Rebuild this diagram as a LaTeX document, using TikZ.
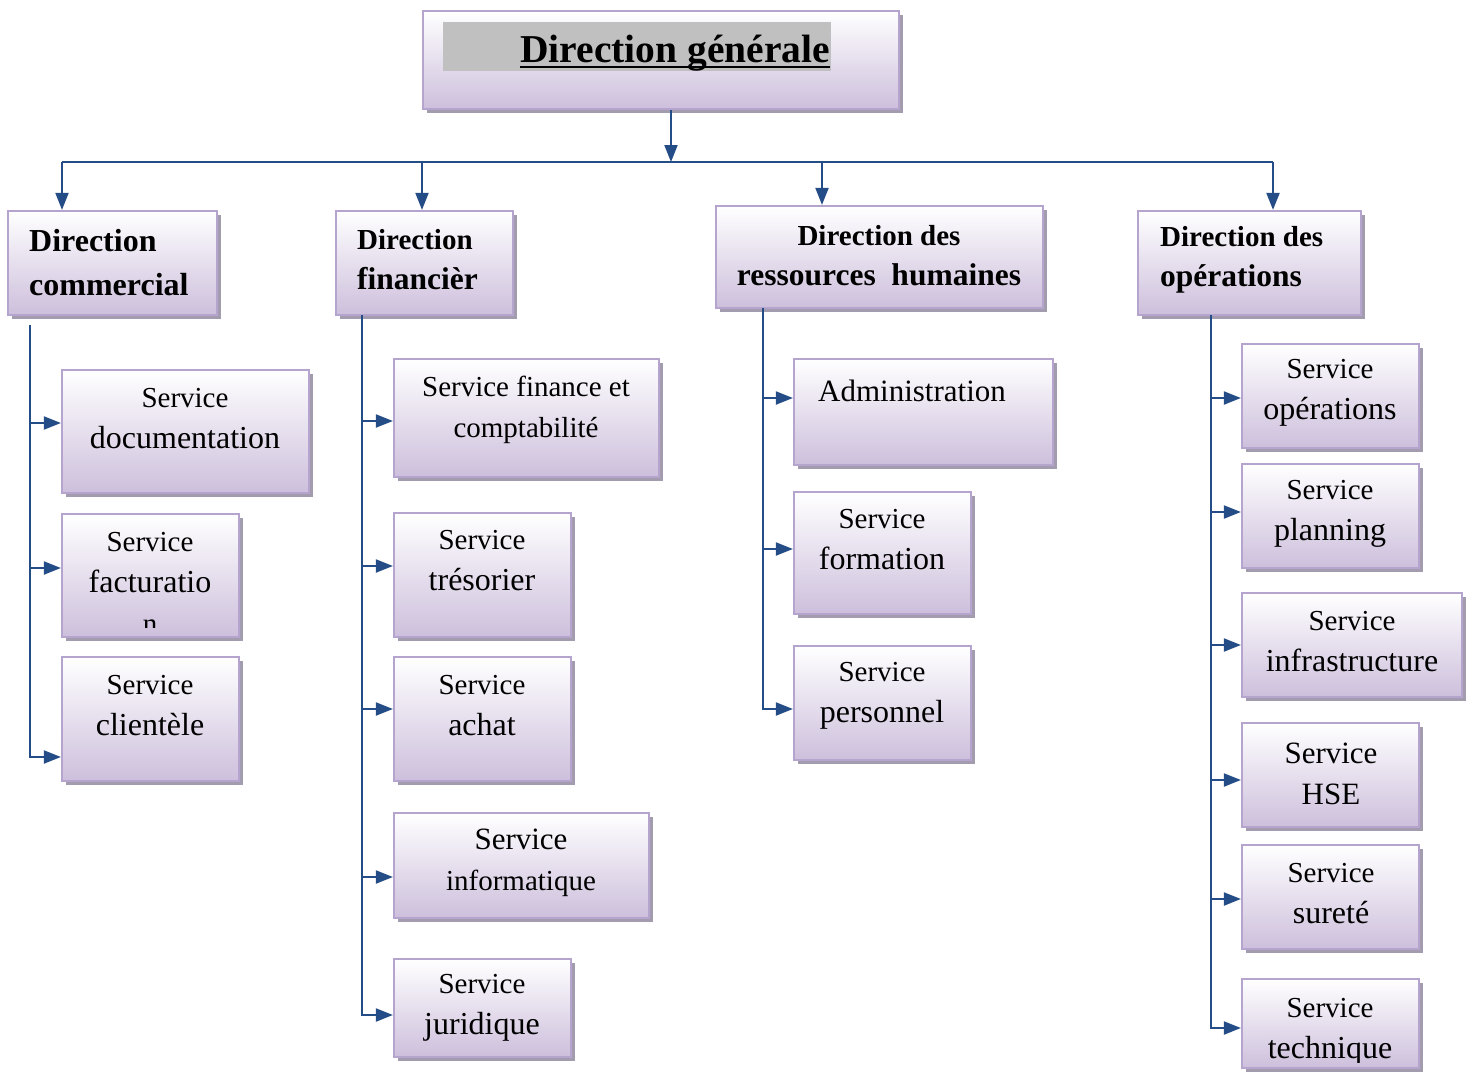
\documentclass[tikz,border=0pt]{standalone}
\usepackage{fontspec}
\setmainfont{Liberation Serif}
\usetikzlibrary{positioning,arrows.meta,shadows}
\definecolor{lavline}{RGB}{181,164,205}
\definecolor{lavfill}{RGB}{205,191,220}
\definecolor{shadowc}{RGB}{163,155,174}
\definecolor{linkblue}{RGB}{36,76,134}
\definecolor{hlgrey}{RGB}{192,192,192}
\newcommand{\secl}{\fontsize{32}{41}\selectfont}
\newcommand{\hsecl}{\fontsize{31.5}{40}\selectfont}

\begin{document}
\begin{tikzpicture}[x=1pt,y=1pt,
  box/.style={draw=lavline,line width=2.2pt,top color=white,bottom color=lavfill,inner sep=0pt,
    drop shadow={shadow xshift=3.5pt,shadow yshift=-3.5pt,fill=shadowc,opacity=1}},
  txt/.style={align=center,inner sep=0pt,font=\fontsize{29}{41}\selectfont},
  head/.style={align=left,inner sep=0pt,font=\bfseries\fontsize{29}{40}\selectfont},
  link/.style={draw=linkblue,line width=2pt},
  arr/.style={link,-{Triangle[length=17pt,width=13pt]}}]
\useasboundingbox (0,0) rectangle (1472,-1071);
% top level
\node[box,minimum width=476,minimum height=98] (dg) at (661,-60) {};
\node[fill=hlgrey,minimum width=388,minimum height=49,inner sep=0pt] (hl) at (637,-46.5) {};
\node[inner sep=0pt,anchor=base,font=\bfseries\fontsize{39.5}{44}\selectfont] (dg-t) at (675,-62) {Direction générale};
\draw[line width=2.6pt] ([yshift=-5]dg-t.base west) -- ([yshift=-5]dg-t.base east);
% directions
\node[box,minimum width=209,minimum height=104] (dc) at (112.5,-263) {};
\node[head,anchor=west,font=\bfseries\fontsize{32}{44}\selectfont] (dc-t) at (29,-263) {Direction\\commercial};
\node[box,minimum width=177,minimum height=104] (df) at (424.5,-263) {};
\node[head,anchor=west] (df-t) at (357,-260) {Direction\\\hsecl financièr};
\node[box,minimum width=327,minimum height=102] (drh) at (879.5,-257) {};
\node[head,align=center] (drh-t) at (879,-256) {Direction des\\\hsecl ressources~~humaines};
\node[box,minimum width=223,minimum height=104] (dop) at (1249.5,-263) {};
\node[head,anchor=west] (dop-t) at (1160,-260) {Direction des\\\hsecl opérations};
% services, commercial
\node[box,minimum width=247,minimum height=123] (doc) at (185.5,-431.5) {};
\node[txt] (doc-t) at (185,-419) {Service\\\secl documentation};
\node[box,minimum width=177,minimum height=123] (fact) at (150.5,-575.5) {};
\begin{scope}
\clip ([yshift=11]fact.south west) rectangle (fact.north east);
\node[txt] (fact-t) at (150,-583) {Service\\\secl facturatio\\n};
\end{scope}
\node[box,minimum width=177,minimum height=124] (cli) at (150.5,-719) {};
\node[txt] (cli-t) at (150,-706) {Service\\\secl clientèle};
% services, financier
\node[box,minimum width=265,minimum height=118] (fin) at (526.5,-418) {};
\node[txt] (fin-t) at (526,-410) {Service finance et\\comptabilité};
\node[box,minimum width=177,minimum height=124] (tres) at (482.5,-575) {};
\node[txt] (tres-t) at (482,-561) {Service\\\secl trésorier};
\node[box,minimum width=177,minimum height=124] (ach) at (482.5,-719) {};
\node[txt] (ach-t) at (482,-706) {Service\\\secl achat};
\node[box,minimum width=255,minimum height=105] (info) at (521.5,-865.5) {};
\node[txt] (info-t) at (521,-863) {{\fontsize{31}{41}\selectfont Service}\\informatique};
\node[box,minimum width=177,minimum height=98] (jur) at (482.5,-1008) {};
\node[txt] (jur-t) at (482,-1008) {Service\\\secl juridique};
% services, ressources humaines
\node[box,minimum width=259,minimum height=106] (adm) at (923.5,-412) {};
\node[txt,font=\fontsize{31}{41}\selectfont] (adm-t) at (912,-391) {Administration};
\node[box,minimum width=177,minimum height=122] (form) at (882.5,-553) {};
\node[txt] (form-t) at (882,-540) {Service\\\secl formation};
\node[box,minimum width=177,minimum height=114] (pers) at (882.5,-703) {};
\node[txt] (pers-t) at (882,-696) {Service\\\secl personnel};
% services, operations
\node[box,minimum width=177,minimum height=104] (sop) at (1330.5,-396) {};
\node[txt] (sop-t) at (1330,-393) {Service\\\secl opérations};
\node[box,minimum width=177,minimum height=104] (plan) at (1330.5,-516) {};
\node[txt] (plan-t) at (1330,-514) {Service\\\secl planning};
\node[box,minimum width=220,minimum height=104] (infra) at (1352,-645) {};
\node[txt] (infra-t) at (1352,-642) {Service\\\secl infrastructure};
\node[box,minimum width=177,minimum height=104] (hse) at (1330.5,-775) {};
\node[txt,font=\fontsize{31}{41}\selectfont] (hse-t) at (1331,-774) {Service\\HSE};
\node[box,minimum width=177,minimum height=104] (sur) at (1330.5,-897) {};
\node[txt] (sur-t) at (1331,-894) {Service\\\secl sureté};
\node[box,minimum width=177,minimum height=89] (tech) at (1330.5,-1023.5) {};
\begin{scope}
\clip ([yshift=7]tech.south west) rectangle (tech.north east);
\node[txt] (tech-t) at (1330,-1032) {Service\\\secl technique};
\end{scope}
% connectors
\coordinate (bm) at (671,-162); \coordinate (b1) at (62,-162); \coordinate (b2) at (422,-162);
\coordinate (b3) at (822,-162); \coordinate (b4) at (1273,-162);
\draw[arr] (bm |- dg.south) -- (bm);
\draw[link] (b1) -- (b4);
\draw[arr] (b1) -- (b1 |- dc.north); \draw[arr] (b2) -- (b2 |- df.north);
\draw[arr] (b3) -- (b3 |- drh.north); \draw[arr] (b4) -- (b4 |- dop.north);
\coordinate (t1) at (30,-325); \coordinate (t2) at (362,-315);
\coordinate (t3) at (763,-308); \coordinate (t4) at (1211,-315);
\coordinate (a-doc) at ([yshift=8.5]doc.west); \coordinate (a-fact) at ([yshift=7.5]fact.west);
\coordinate (a-cli) at ([yshift=-38]cli.west);
\draw[arr] (t1) |- (a-cli); \draw[arr] (t1 |- a-doc) -- (a-doc); \draw[arr] (t1 |- a-fact) -- (a-fact);
\coordinate (a-fin) at ([yshift=-3]fin.west); \coordinate (a-tres) at ([yshift=9]tres.west);
\coordinate (a-ach) at ([yshift=10]ach.west); \coordinate (a-info) at ([yshift=-11.5]info.west);
\coordinate (a-jur) at ([yshift=-7]jur.west);
\draw[arr] (t2) |- (a-jur); \draw[arr] (t2 |- a-fin) -- (a-fin); \draw[arr] (t2 |- a-tres) -- (a-tres);
\draw[arr] (t2 |- a-ach) -- (a-ach); \draw[arr] (t2 |- a-info) -- (a-info);
\coordinate (a-adm) at ([yshift=14]adm.west); \coordinate (a-form) at ([yshift=4]form.west);
\coordinate (a-pers) at ([yshift=-6]pers.west);
\draw[arr] (t3) |- (a-pers); \draw[arr] (t3 |- a-adm) -- (a-adm); \draw[arr] (t3 |- a-form) -- (a-form);
\coordinate (a-sop) at ([yshift=-2]sop.west); \coordinate (a-plan) at ([yshift=4]plan.west);
\coordinate (a-infra) at (infra.west); \coordinate (a-hse) at ([yshift=-5]hse.west);
\coordinate (a-sur) at ([yshift=-2]sur.west); \coordinate (a-tech) at ([yshift=-4.5]tech.west);
\draw[arr] (t4) |- (a-tech); \draw[arr] (t4 |- a-sop) -- (a-sop); \draw[arr] (t4 |- a-plan) -- (a-plan);
\draw[arr] (t4 |- a-infra) -- (a-infra); \draw[arr] (t4 |- a-hse) -- (a-hse); \draw[arr] (t4 |- a-sur) -- (a-sur);
\end{tikzpicture}
\end{document}
